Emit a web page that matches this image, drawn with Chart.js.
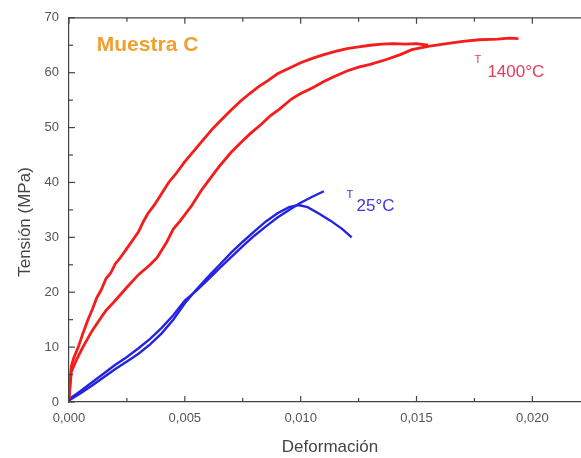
<!DOCTYPE html>
<html>
<head>
<meta charset="utf-8">
<script src="https://cdn.jsdelivr.net/npm/chart.js@4/dist/chart.umd.min.js"></script>
<style>
  html, body { margin: 0; padding: 0; background: #fff; }
  #wrap { width: 581px; height: 458px; position: relative; }
</style>
</head>
<body>
<div id="wrap"><canvas id="chart"></canvas></div>
<script>
(function () {
  'use strict';

  // deformation / stress readings, T = 1400 °C (two runs)
  var RED_A_X = [0, 0.00005, 0.0001, 0.0002, 0.0004, 0.0006, 0.0008, 0.001, 0.0012, 0.0014, 0.0016, 0.0018, 0.002, 0.0022, 0.0025, 0.0028, 0.003, 0.0032, 0.0034, 0.0037, 0.004, 0.0043, 0.0046, 0.005, 0.0054, 0.0058, 0.0062, 0.0066, 0.007, 0.0074, 0.0078, 0.0082, 0.0086, 0.009, 0.0095, 0.01, 0.0105, 0.011, 0.0115, 0.012, 0.0125, 0.013, 0.0135, 0.014, 0.0145, 0.015, 0.0155];
  var RED_A_Y = [0.5, 4, 6.5, 8, 10, 12.5, 14.8, 16.8, 19, 20.5, 22.5, 23.5, 25.2, 26.2, 28, 29.8, 31, 32.8, 34.3, 36, 38, 40, 41.5, 43.8, 45.8, 47.8, 49.8, 51.5, 53.2, 54.8, 56.2, 57.5, 58.6, 59.8, 60.8, 61.8, 62.6, 63.3, 63.9, 64.4, 64.7, 65, 65.2, 65.3, 65.2, 65.3, 65];

  var RED_B_X = [0, 0.00005, 0.0001, 0.0003, 0.0006, 0.001, 0.0014, 0.0016, 0.002, 0.0025, 0.003, 0.0035, 0.0038, 0.0042, 0.0045, 0.0048, 0.0053, 0.0057, 0.006, 0.0065, 0.007, 0.0075, 0.0078, 0.0083, 0.0087, 0.0091, 0.0096, 0.01, 0.0105, 0.011, 0.0115, 0.012, 0.0125, 0.013, 0.0137, 0.0143, 0.0148, 0.0155, 0.0163, 0.017, 0.0177, 0.0185, 0.019, 0.0194];
  var RED_B_Y = [0.5, 3, 5.5, 7.5, 10, 13, 15.5, 16.7, 18.5, 20.9, 23.2, 25, 26.3, 29, 31.5, 33, 35.8, 38.5, 40.2, 43, 45.5, 47.6, 48.8, 50.6, 52.2, 53.4, 55.2, 56.2, 57.2, 58.4, 59.4, 60.3, 61, 61.5, 62.4, 63.3, 64.2, 64.8, 65.3, 65.7, 66, 66.1, 66.3, 66.2];

  // T = 25 °C (two runs)
  var BLUE_A_X = [0, 0.0005, 0.001, 0.0015, 0.002, 0.0025, 0.003, 0.0035, 0.004, 0.0045, 0.005, 0.0055, 0.006, 0.0065, 0.007, 0.0075, 0.008, 0.0085, 0.009, 0.0095, 0.01, 0.0105, 0.011];
  var BLUE_A_Y = [0.5, 2, 3.6, 5.2, 6.8, 8.2, 9.8, 11.5, 13.5, 15.8, 18.5, 20.3, 22.3, 24.4, 26.4, 28.4, 30.3, 32, 33.6, 35, 36.3, 37.4, 38.4];

  var BLUE_B_X = [0, 0.0005, 0.001, 0.0015, 0.002, 0.0025, 0.003, 0.0035, 0.004, 0.0045, 0.005, 0.0055, 0.006, 0.0065, 0.007, 0.0075, 0.008, 0.0085, 0.009, 0.0095, 0.0099, 0.0103, 0.0108, 0.0113, 0.0118, 0.0122];
  var BLUE_B_Y = [0.3, 1.6, 3, 4.5, 6, 7.4, 8.8, 10.5, 12.5, 15, 18, 20.5, 22.8, 25, 27.2, 29.2, 31.1, 32.9, 34.4, 35.5, 35.9, 35.5, 34.3, 33, 31.5, 30];

  var X_MAX = 0.0221;
  var Y_MAX = 70;

  function pts(xs, ys) {
    return xs.map(function (x, i) { return { x: x, y: ys[i] }; });
  }

  function fmtX(v) {
    return v.toFixed(3).replace('.', ',');
  }

  var FONT = "'Liberation Sans', Arial, sans-serif";
  var RED = '#f51c1c';
  var BLUE = '#2424e0';

  // inward tick marks, top axis line and axis titles
  var frame = {
    id: 'frame',
    afterDraw: function (chart) {
      var ctx = chart.ctx;
      var a = chart.chartArea;
      var xs = chart.scales.x;
      var ys = chart.scales.y;
      ctx.save();
      ctx.strokeStyle = '#444';
      ctx.lineWidth = 1.2;
      ctx.beginPath();
      ctx.moveTo(a.left, a.top);
      ctx.lineTo(a.right, a.top);
      ctx.stroke();
      xs.ticks.forEach(function (t) {
        var px = xs.getPixelForValue(t.value);
        var major = Math.abs(t.value / 0.005 - Math.round(t.value / 0.005)) < 1e-6;
        var len = major ? 6 : 4;
        ctx.beginPath();
        ctx.moveTo(px, a.bottom);
        ctx.lineTo(px, a.bottom - len);
        ctx.moveTo(px, a.top);
        ctx.lineTo(px, a.top + len);
        ctx.stroke();
      });
      ys.ticks.forEach(function (t) {
        var py = ys.getPixelForValue(t.value);
        var len = t.value % 10 === 0 ? 6 : 4;
        ctx.beginPath();
        ctx.moveTo(a.left, py);
        ctx.lineTo(a.left + len, py);
        ctx.stroke();
      });

      ctx.fillStyle = '#444';
      ctx.textAlign = 'center';
      ctx.textBaseline = 'middle';
      ctx.font = '17px ' + FONT;
      ctx.fillText('Deformación', (a.left + a.right) / 2 + 5, 447);
      ctx.translate(25, 222);
      ctx.rotate(-Math.PI / 2);
      ctx.font = '17px ' + FONT;
      ctx.fillText('Tensión (MPa)', 0, 0);
      ctx.restore();
    }
  };

  // text annotations placed through the data scales
  var notes = {
    id: 'notes',
    afterDatasetsDraw: function (chart) {
      var ctx = chart.ctx;
      var xs = chart.scales.x;
      var ys = chart.scales.y;
      ctx.save();
      ctx.textBaseline = 'middle';
      ctx.textAlign = 'left';

      ctx.fillStyle = '#f0a030';
      ctx.font = 'bold 21px ' + FONT;
      ctx.fillText('Muestra C', xs.getPixelForValue(0.0012), ys.getPixelForValue(65));

      ctx.fillStyle = '#e63c55';
      ctx.font = '11px ' + FONT;
      ctx.fillText('T', xs.getPixelForValue(0.0175), ys.getPixelForValue(62.4));
      ctx.font = '17px ' + FONT;
      ctx.fillText('1400°C', xs.getPixelForValue(0.01806), ys.getPixelForValue(60));

      ctx.fillStyle = '#3a3ad8';
      ctx.font = '11px ' + FONT;
      ctx.fillText('T', xs.getPixelForValue(0.01198), ys.getPixelForValue(37.8));
      ctx.font = '17px ' + FONT;
      ctx.fillText('25°C', xs.getPixelForValue(0.01241), ys.getPixelForValue(35.7));
      ctx.restore();
    }
  };

  function line(data, color, width) {
    return {
      data: data,
      showLine: true,
      borderColor: color,
      borderWidth: width,
      pointRadius: 0,
      tension: 0,
      fill: false
    };
  }

  new Chart(document.getElementById('chart'), {
    type: 'scatter',
    data: {
      datasets: [
        line(pts(RED_A_X, RED_A_Y), RED, 2.8),
        line(pts(RED_B_X, RED_B_Y), RED, 2.8),
        line(pts(BLUE_A_X, BLUE_A_Y), BLUE, 2.4),
        line(pts(BLUE_B_X, BLUE_B_Y), BLUE, 2.4)
      ]
    },
    options: {
      responsive: true,
      maintainAspectRatio: false,
      animation: false,
      layout: { padding: { top: 16, right: 0, left: 0, bottom: 0 } },
      plugins: { legend: { display: false }, tooltip: { enabled: false } },
      scales: {
        x: {
          type: 'linear',
          min: 0,
          max: X_MAX,
          afterFit: function (s) { s.height = 56; },
          afterBuildTicks: function (s) {
            var t = [];
            for (var v = 0; v <= X_MAX + 1e-9; v += 0.0025) t.push({ value: +v.toFixed(4) });
            s.ticks = t;
          },
          grid: { display: true, drawOnChartArea: false, drawTicks: false },
          border: { display: true, color: '#444', width: 1.2 },
          ticks: {
            padding: 9,
            color: '#555',
            font: { family: FONT, size: 13 },
            maxRotation: 0,
            autoSkip: false,
            callback: function (v) {
              var k = v / 0.005;
              return Math.abs(k - Math.round(k)) < 1e-6 ? fmtX(v) : '';
            }
          }
        },
        y: {
          min: 0,
          max: Y_MAX,
          afterFit: function (s) { s.width = 69; },
          grid: { display: true, drawOnChartArea: false, drawTicks: false },
          border: { display: true, color: '#444', width: 1.2 },
          ticks: {
            stepSize: 5,
            padding: 10,
            color: '#555',
            font: { family: FONT, size: 13 },
            callback: function (v) { return v % 10 === 0 ? String(v) : ''; }
          }
        }
      }
    },
    plugins: [frame, notes]
  });
})();
</script>
</body>
</html>
